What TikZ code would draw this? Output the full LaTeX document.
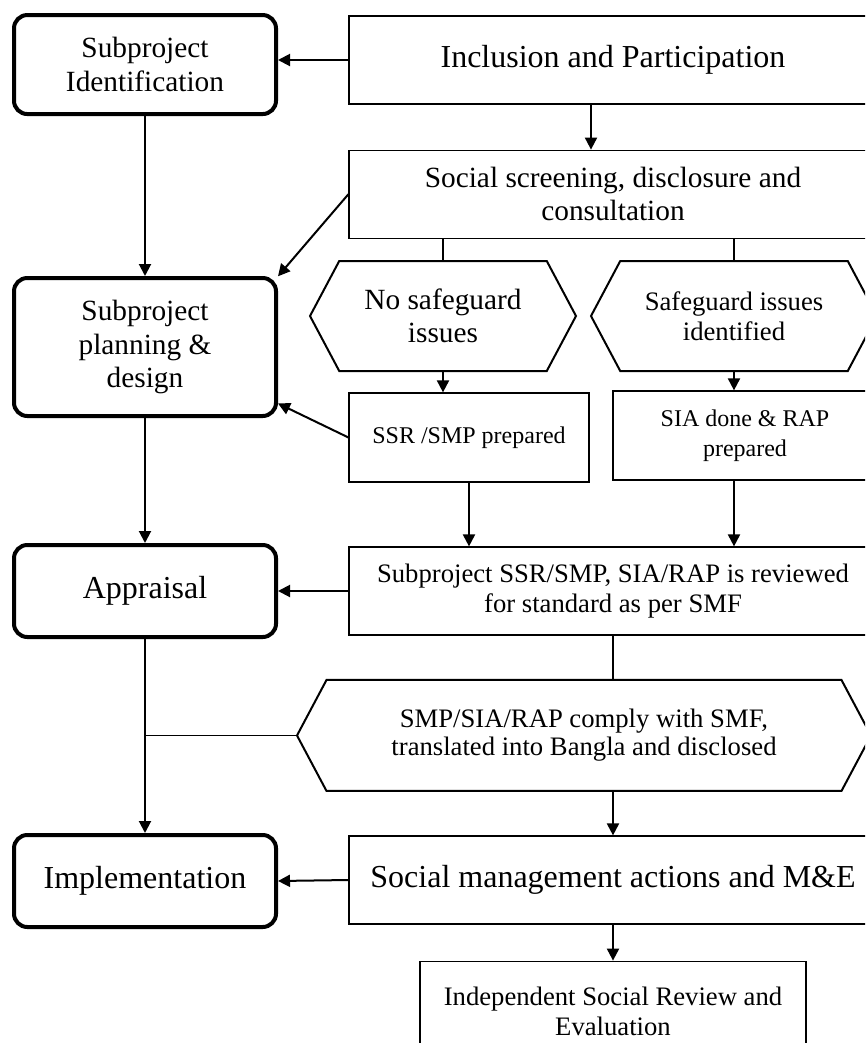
\documentclass[tikz,border=0pt]{standalone}
\usepackage{fontspec}
\setmainfont{Liberation Serif}
\usetikzlibrary{arrows.meta,positioning,shapes.symbols}

\begin{document}
\begin{tikzpicture}[
  stage/.style={draw,line width=3pt,rounded corners=10pt,minimum width=196.5pt,inner sep=3pt,align=center,font=\fontsize{22}{25}\selectfont},
  box/.style={draw,line width=0.9pt,minimum width=396pt,minimum height=66pt,inner sep=3pt,align=center},
  hexbox/.style={draw,line width=1.5pt,shape=signal,signal to=west and east,signal pointer angle=124,minimum height=82.5pt,inner sep=2pt,align=center},
  arrow/.style={-{Triangle[length=9pt,width=9pt]},line width=1.5pt},
  link/.style={line width=1.2pt}
]
  \useasboundingbox (0,0) rectangle (648.75pt,-782.25pt);
  \clip (0,0) rectangle (648.75pt,-782.25pt);

  % left column
  \node[stage,minimum height=74.25pt] (ident) at (108.75pt,-48.4pt) {Subproject\\Identification};
  \node[stage,minimum height=103.5pt] (plan) at (108.75pt,-260.25pt) {Subproject\\planning \&\\design};
  \node[stage,minimum height=69pt,font=\fontsize{24}{27}\selectfont] (appr) at (108.75pt,-443.25pt) {Appraisal};
  \node[stage,minimum height=69pt,font=\fontsize{24}{27}\selectfont] (impl) at (108.75pt,-660.75pt) {Implementation};

  % right column
  \node[box,font=\fontsize{24}{27}\selectfont] (incl) at (459.75pt,-45pt) {Inclusion and Participation};
  \node[box,below=33.75pt of incl,font=\fontsize{22}{25}\selectfont] (screen) {Social screening, disclosure and\\consultation};
  \node[hexbox,minimum width=199.5pt,font=\fontsize{22}{25}\selectfont] (nosg) at (332.25pt,-237pt) {No safeguard\\issues};
  \node[hexbox,minimum width=214.5pt,font=\fontsize{20}{22.5}\selectfont] (sg) at (550.5pt,-237pt) {Safeguard issues\\identified};
  \node[box,minimum width=180pt,minimum height=66.75pt,font=\fontsize{18}{22.5}\selectfont] (ssr) at (351.75pt,-328.1pt) {SSR /SMP prepared};
  \node[box,minimum width=198pt,minimum height=66.75pt,font=\fontsize{18}{22.5}\selectfont] (sia) at (558.75pt,-326.6pt) {SIA done \& RAP\\prepared};
  \node[box,font=\fontsize{20}{22}\selectfont] (review) at (459.75pt,-443.25pt) {Subproject SSR/SMP, SIA/RAP is reviewed\\for standard as per SMF};
  \node[hexbox,minimum width=430.5pt,minimum height=83.25pt,font=\fontsize{20}{21}\selectfont] (comply) at (438pt,-551.6pt) {SMP/SIA/RAP comply with SMF,\\translated into Bangla and disclosed};
  \node[box,font=\fontsize{24}{27}\selectfont] (smgmt) at (459.75pt,-660pt) {Social management actions and M\&E};
  \node[box,below=27pt of smgmt,minimum width=289.5pt,minimum height=75pt,font=\fontsize{20}{22.5}\selectfont] (indep) {Independent Social Review and\\Evaluation};

  % connectors
  \draw[arrow] (incl.west) -- (incl.west -| ident.east);
  \draw[arrow] ([xshift=-16.5pt]incl.south) -- ([xshift=-16.5pt]screen.north);
  \draw[arrow] (ident) -- (plan);
  \draw[arrow] (screen.west) -- (plan.28);
  \draw[link] (screen.south -| nosg.north) -- (nosg.north);
  \draw[link] (screen.south -| sg.north) -- (sg.north);
  \draw[arrow] (nosg.south) -- (nosg.south |- ssr.north);
  \draw[arrow] (sg.south) -- (sg.south |- sia.north);
  \draw[arrow] (ssr.west) -- (plan.-23.5);
  \draw[arrow] (ssr.south) -- (ssr.south |- review.north);
  \draw[arrow] (sia.south -| sg.south) -- (sg.south |- review.north);
  \draw[arrow] (plan) -- (appr);
  \draw[arrow] (review.west) -- (appr.east);
  \draw[link] (review.south) -- (review.south |- comply.north);
  \draw[arrow] (appr) -- (impl);
  \draw[link] (comply.west) -- (comply.west -| appr.south);
  \draw[arrow] (comply.south -| review.south) -- (smgmt.north);
  \draw[arrow] (smgmt.west) -- (impl.east);
  \draw[arrow] (smgmt.south) -- (indep.north);
\end{tikzpicture}
\end{document}
